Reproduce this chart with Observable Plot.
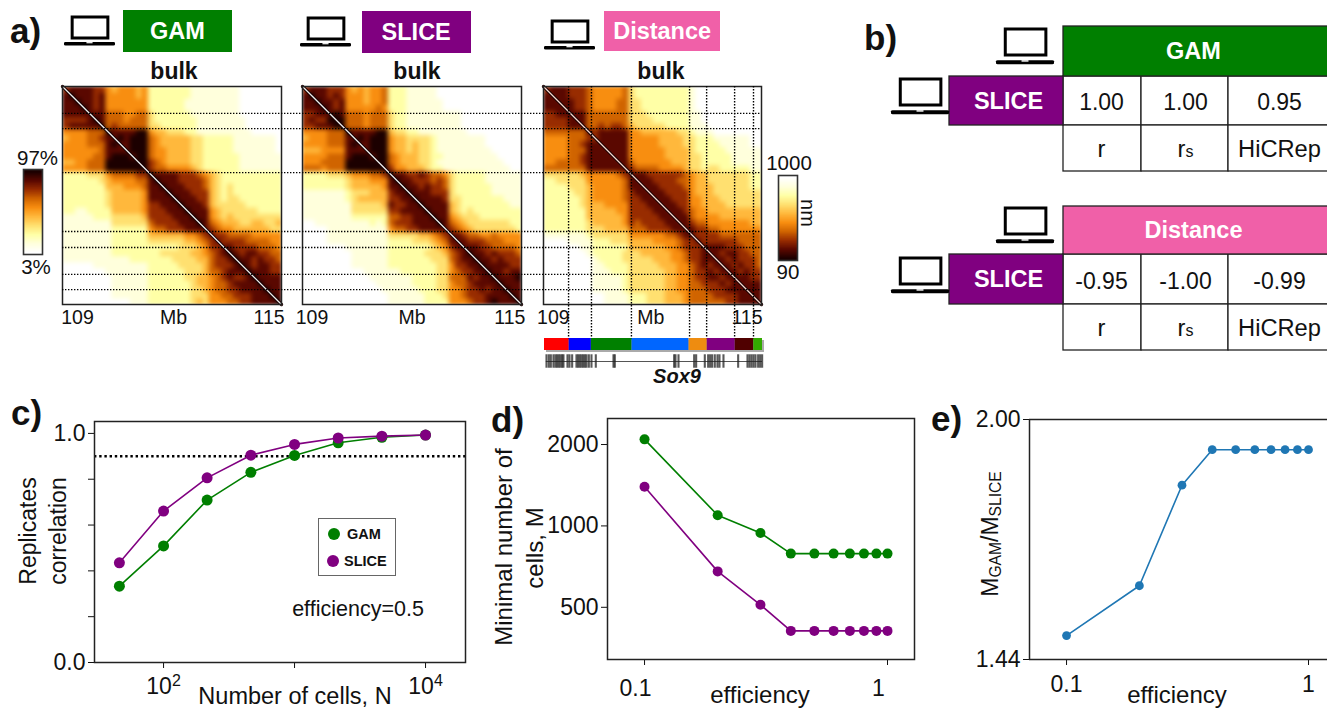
<!DOCTYPE html>
<html><head><meta charset="utf-8">
<script src="https://cdn.jsdelivr.net/npm/d3@7"></script>
<script src="https://cdn.jsdelivr.net/npm/@observablehq/plot@0.6"></script>
<style>
html,body{margin:0;background:#fff}
#root{position:relative;width:1327px;height:710px;overflow:hidden;font-family:"Liberation Sans",Arial,sans-serif;color:#111}
#root svg{position:absolute;overflow:visible}
.lab{position:absolute;line-height:1;white-space:nowrap}
sub{font-size:68%;vertical-align:baseline;position:relative;top:.22em}
</style></head><body><div id="root"></div>
<script>
// ---------- data ----------
// Upper triangle of each contact map, read by eye: row i lists columns i..35, level 0 (white) to 9 (black).
const gamRows=[
"78888775 455545 2222222111 111 110000000","9888785 555545 2222222111 111 110000000","988785 555555 2222221111 111 110000000","98785 555555 2222221111 111 110000000",
"8886 665566 3222222111 111 110000000","986 665666 3222222211 111 111000000","96 766666 3322222211 111 111000000","9 888899 5443332211 111 111100000",
"898999 6544444332 222 211111110","88999 6544444332 222 211111110","8999 6554444332 222 211111110","899 6554444332 222 221111111","99 7654444332 222 221111111","9 7665555432 222 221111111",
"9888877765 432 222222222","988877776 432 222222222","98887776 432 322222222","9888777 432 322222222","988877 432 332222222","98887 433 333222222","9888 543 333332222","988 543 433333333","98 654 443344334","8 765 544444433",
"877 666655555","87 777666655","8 877776665",
"987887766","98878776","9878877","988877","98888","9888","988","98","9"];
const sliceRows=[
"78887775 454556 2221111100 000 000000000","9887875 554556 2221111100 000 000000000","988785 554556 2221111110 000 000000000","98785 555565 2221111110 000 000000000",
"8986 665666 3221111111 110 000000000","996 665666 3221111111 110 000000000","96 665666 3221111111 110 000000000","9 888899 4332211111 111 000000000",
"898999 5443333211 111 111000000","88999 5443433211 111 111000000","8999 5443433211 111 111100000","899 6544433221 111 111110000","99 6544433211 111 111111000","9 7554443221 111 111111100",
"9887787665 322 222111111","988777676 322 222111111","98878776 322 222211111","9888777 322 222211111","988887 332 222222111","98888 432 222222211","9888 432 322222222","988 543 332222222","98 654 333333322","8 765 433333332",
"887 665565555","88 777666555","8 887766665",
"988787776","98878777","9888877","988788","98889","9888","988","98","9"];
const distRows=[
"78887776 555556 3222222222 100 000000000","8887776 555556 3222222222 100 000000000","888776 555566 3322222222 100 000000000","88776 555566 3322222222 100 000000000",
"8886 666666 3332222222 110 000000000","886 666666 3333222222 110 000000000","86 676776 4333332222 111 000000000","8 788888 5544444433 211 100000000",
"788888 5555544443 322 211111100","88888 5555544443 322 221111100","8888 5555554444 322 222111111","888 5555554444 332 222211111","88 6555555444 332 222211111","8 7666655554 332 332222211",
"8887777776 544 333333322","888777766 544 333333322","88877776 544 433333322","8887777 544 433333333","888777 554 443333333","88877 554 444333333","8887 655 444444444","888 655 554444444","88 766 555555544","8 877 665555555",
"877 776666666","87 777776666","8 888777666",
"887887766","88787776","8878776","887877","88877","8888","888","88","8"];
const heatRamp=["#ffffff","#ffffdc","#ffffa6","#ffe070","#ffb83c","#f88e10","#d06400","#982c00","#5a0800","#1c0000"];
const barLevels=[9,8.5,8,7.5,7,6.5,6,5.5,5,4.5,4,3.5,3,2.5,2,1.5,1,.5,0];
const domainLinesY=[109.74,110.16,111.37,112.99,113.43,114.17,114.59];
const domainLinesX=[109.69,110.32,111.42,113.02,113.49,114.26,114.78];
const tadStarts=[109,109.68,110.29,111.41,112.98,113.48,114.25,114.76];
const tadEnds=[109.68,110.29,111.41,112.98,113.48,114.25,114.76,115];
const tadColors=["#ff0000","#0000ff","#008000","#0066ff","#ee8c10","#800080","#500000","#33aa00"];
const genePositions=[109.055,109.119,109.174,109.247,109.302,109.348,109.394,109.440,109.486,109.522,109.633,109.688,109.761,109.880,109.926,109.972,110.018,110.064,110.110,110.156,110.220,110.293,110.412,110.899,110.935,112.568,112.605,112.688,113.119,113.174,113.412,113.504,113.559,113.614,113.687,113.761,113.816,113.926,114.330,114.587,114.642,114.697,114.752,114.807,114.880,114.935,114.990];
const heatTickText=["109","Mb","115"];
const gamTickAt=[109.41,112.04,114.66], sliceTickAt=[109.26,112.0,114.68], distTickAt=[109.27,111.95,114.6];
const cellsN=[46,100,215,464,1000,2154,4642,10000];
const gamCorr=[.333,.509,.709,.830,.904,.959,.983,.993];
const sliceCorr=[.435,.661,.806,.905,.952,.980,.988,.993];
const efficiency=[.1,.2,.3,.4,.5,.6,.7,.8,.9,1];
const gamMin=[2090,1095,942,790,790,790,790,790,790,790];
const sliceMin=[1395,679,511,409,409,409,409,409,409,409];
const ratio=[1.488,1.593,1.828,1.919,1.919,1.919,1.919,1.919,1.919,1.919];
const tableCols=["r","rs","HiCRep"];
const gamVals=["1.00","1.00","0.95"];
const distVals=["-0.95","-1.00","-0.99"];
const colEdges=[0,114,192,279,400];
const colCenters=[152,236,330];

// ---------- helpers ----------
const root=document.getElementById("root");
const GREEN="#007f00",PURPLE="#800080",PINK="#f060a8",FONT='"Liberation Sans",Arial,sans-serif';
function put(svg,l,t){svg.style.left=l+"px";svg.style.top=t+"px";root.appendChild(svg);return svg}
function lab(html,x,y,size,o={}){const d=document.createElement("div");d.className="lab";d.innerHTML=html;d.style.fontSize=size+"px";
  if(o.bold)d.style.fontWeight="bold";if(o.italic)d.style.fontStyle="italic";if(o.color)d.style.color=o.color;
  d.style.left=x+"px";
  if(o.rot!==undefined){d.style.top=y+"px";d.style.transform=`translate(-50%,-50%) rotate(${o.rot}deg)`}
  else{d.style.top=(y-.8465*size)+"px";if(o.center)d.style.transform="translateX(-50%)"}
  root.appendChild(d);return d}
function box(x,y,w,h,fill,border){const d=document.createElement("div");Object.assign(d.style,{position:"absolute",left:x+"px",top:y+"px",width:w+"px",height:h+"px",background:fill,boxSizing:"border-box"});if(border)d.style.border=border;root.appendChild(d);return d}
function laptop(x,y,w,h){const ns="http://www.w3.org/2000/svg",s=document.createElementNS(ns,"svg");s.setAttribute("width",w);s.setAttribute("height",h);s.setAttribute("viewBox","0 0 100 100");s.setAttribute("preserveAspectRatio","none");
  s.innerHTML=`<rect x="16" y="3" width="70" height="70" fill="#fff" stroke="#000" vector-effect="non-scaling-stroke" style="stroke-width:3px"/><rect x="0" y="87" width="100" height="11" rx="3" fill="#000"/><rect x="44" y="87" width="12" height="4" fill="#fff"/>`;
  put(s,x,y)}
const expand=rows=>{const n=36,m=new Array(n*n).fill(0);rows.forEach((raw,i)=>{const r=raw.replace(/ /g,"");for(let j=i;j<n;j++){const c=r[j-i]??r[r.length-1];m[i*n+j]=m[j*n+i]=+c}});return m};
const colorScale={type:"linear",domain:d3.range(10),range:heatRamp};
const baseStyle={fontFamily:FONT,background:"transparent",overflow:"visible",color:"#111"};

// ---------- panel a ----------
function heat(rows,left,w,tickAt,diag){
  const ticks=heatTickText.map((t,i)=>({t,x:tickAt[i]}));
  const p=Plot.plot({width:w,height:218,margin:0,style:baseStyle,
    x:{domain:[109,115],axis:null},y:{domain:[115,109],axis:null},color:colorScale,
    marks:[
      Plot.raster(expand(rows),{width:36,height:36,x1:109,y1:109,x2:115,y2:115,fill:d=>d,clip:"frame"}),
      Plot.line([[109,109],[115,115]],{stroke:"#1a0000",strokeWidth:3.2}),
      Plot.line([[109,109],[115,115]],{stroke:diag,strokeWidth:1.3}),
      Plot.text(ticks,{x:"x",y:()=>115,text:"t",dy:13,fontSize:19.5,fill:"#111"}),
      Plot.frame({stroke:"#222",strokeWidth:1.5})
    ]});
  p.querySelectorAll("image").forEach(e=>{e.style.filter="blur(1.8px)"});
  put(p,left,86);
}
heat(gamRows,62,219,gamTickAt,"#eee");
heat(sliceRows,302,219,sliceTickAt,"#eee");
heat(distRows,543,218,distTickAt,"#f6d9d0");
// domain guides over all three maps
put(Plot.plot({width:699,height:218,margin:0,style:baseStyle,y:{domain:[115,109],axis:null},x:{axis:null},
  marks:[Plot.ruleY(domainLinesY,{stroke:"#000",strokeWidth:1.4,strokeDasharray:"1.4 1.6"})]}),62,86);
put(Plot.plot({width:218,height:266,margin:0,style:baseStyle,x:{domain:[109,115],axis:null},y:{axis:null},
  marks:[Plot.ruleX(domainLinesX,{stroke:"#000",strokeWidth:1.4,strokeDasharray:"1.4 1.6"})]}),543,86);
// TAD strip and gene track
const tads=tadStarts.map((s,i)=>({s,e:tadEnds[i],c:tadColors[i]}));
put(Plot.plot({width:218,height:12,margin:0,style:baseStyle,x:{domain:[109,115],axis:null},y:{domain:[0,1],axis:null},
  marks:[Plot.rect([0],{x1:()=>109,x2:()=>115,y1:()=>0,y2:()=>1,fill:"#aaa",dx:2,dy:2}),
         Plot.rect(tads,{x1:"s",x2:"e",y1:()=>0,y2:()=>1,fill:d=>d.c})]}),543.5,337.5);
put(Plot.plot({width:218,height:16,margin:0,style:baseStyle,x:{domain:[109,115],axis:null},y:{domain:[0,1],axis:null},
  marks:[Plot.ruleY([.5],{x1:()=>109.05,x2:()=>115,stroke:"#555",strokeWidth:1}),
         Plot.ruleX(genePositions,{y1:()=>0.08,y2:()=>.92,stroke:"#222",strokeWidth:2.1,strokeOpacity:.75})]}),543.5,353);
// colour bars
function bar(levels,l,t,w,h){put(Plot.plot({width:w,height:h,margin:0,style:baseStyle,x:{domain:[0,1],axis:null},y:{domain:[0,1],axis:null},color:colorScale,
  marks:[Plot.raster(levels,{width:1,height:levels.length,x1:0,x2:1,y1:1,y2:0,fill:d=>d}),Plot.frame({stroke:"#333",strokeWidth:1.6})]}),l,t)}
bar(barLevels,23,169,19,85);
bar([...barLevels].reverse(),778,175,19,85);
lab("97%",37.5,165,20.5,{center:1});lab("3%",36,274,20.5,{center:1});
lab("1000",789,170,20.5,{center:1});lab("90",788,279,20.5,{center:1});lab("nm",808,213,20,{rot:90});
// headers
[["GAM",122.7,10,109.6,41.7,GREEN],["SLICE",361.7,11,109,41.7,PURPLE],["Distance",604.3,11,115.7,40,PINK]].forEach(([t,x,y,w,h,c])=>{
  box(x,y,w,h,c);lab(t,x+w/2,y+h/2+9,23.5,{bold:1,center:1,color:"#fff"});});
[[64,16],[300,17],[544,20]].forEach(([x,y])=>laptop(x,y,51,30));
[174,417,661].forEach(x=>lab("bulk",x,79,23,{bold:1,center:1}));
lab("Sox9",677,383,20,{bold:1,italic:1,center:1});

// ---------- panel b ----------
function table(top,rowEdges,title,color,vals){
  const cols=tableCols.map((t,i)=>({t,x:colCenters[i],v:vals[i]}));
  const rowMid=i=>(rowEdges[i]+rowEdges[i+1])/2;
  const cells=[];for(let c=1;c<4;c++)for(let r=1;r<3;r++)cells.push({x1:colEdges[c],x2:colEdges[c+1],y1:rowEdges[r],y2:rowEdges[r+1]});
  const p=Plot.plot({width:378,height:rowEdges[3],margin:0,style:baseStyle,
    x:{domain:[0,378],axis:null},y:{domain:[rowEdges[3],0],axis:null},
    marks:[
      Plot.rect(cells,{x1:"x1",x2:"x2",y1:"y1",y2:"y2",fill:"#fff",stroke:"#222",strokeWidth:1.3}),
      Plot.rect([0],{x1:()=>114,x2:()=>400,y1:()=>0,y2:()=>rowEdges[1],fill:color,stroke:"#222",strokeWidth:1.3}),
      Plot.rect([0],{x1:()=>0,x2:()=>114,y1:()=>rowEdges[1],y2:()=>rowEdges[2],fill:PURPLE,stroke:"#222",strokeWidth:1.3}),
      Plot.text([title],{x:()=>244,y:()=>rowMid(0),text:d=>d,fill:"#fff",fontWeight:"bold",fontSize:23.5}),
      Plot.text(["SLICE"],{x:()=>59,y:()=>rowMid(1),text:d=>d,fill:"#fff",fontWeight:"bold",fontSize:23.5}),
      Plot.text(cols,{x:"x",y:()=>rowMid(1),text:"v",dy:2,fontSize:23,fill:"#111"}),
      Plot.text(cols,{x:"x",y:()=>rowMid(2),text:"t",dy:1,fontSize:23.7,fill:"#111"})
    ]});
  p.querySelectorAll("text").forEach(e=>{if(e.textContent==="rs")e.innerHTML='r<tspan font-size="16">s</tspan>'});
  put(p,949,top);
}
table(26,[0,50,99,145],"GAM",GREEN,gamVals);
table(206,[0,48,98,144],"Distance",PINK,distVals);
[[996,28],[891,78],[996,207],[891,257]].forEach(([x,y])=>laptop(x,y,58,37));

// ---------- panel c ----------
const cData=s=>cellsN.map((n,i)=>({n,v:s[i]}));
const pc=Plot.plot({width:480,height:310,marginLeft:94,marginTop:21,marginRight:15,marginBottom:48,style:{...baseStyle,fontSize:"23px"},
  x:{type:"log",domain:[29.7,20190]},y:{domain:[0,1.052]},
  marks:[
    Plot.axisX({ticks:[100,1000,10000],tickFormat:d=>d===100?"102":d===10000?"104":"",tickSize:6,tickPadding:9,label:null}),
    Plot.axisY({ticks:[0,.2,.4,.6,.8,1],tickFormat:d=>d===0?"0.0":d===1?"1.0":"",tickSize:6,tickPadding:3,label:null}),
    Plot.ruleY([.9],{stroke:"#000",strokeWidth:2.4,strokeDasharray:"2.4 2.8"}),
    Plot.line(cData(gamCorr),{x:"n",y:"v",stroke:GREEN,strokeWidth:1.6}),
    Plot.dot(cData(gamCorr),{x:"n",y:"v",r:5.5,fill:GREEN}),
    Plot.line(cData(sliceCorr),{x:"n",y:"v",stroke:PURPLE,strokeWidth:1.6}),
    Plot.dot(cData(sliceCorr),{x:"n",y:"v",r:5.5,fill:PURPLE}),
    Plot.frame({stroke:"#222",strokeWidth:1.5})
  ]});
pc.querySelectorAll("text").forEach(e=>{const t=e.textContent;if(t==="102"||t==="104")e.innerHTML=`10<tspan dy="-8" font-size="16">${t[2]}</tspan>`});
put(pc,0,400);
lab("Replicates",28,531,23,{rot:-90});lab("correlation",58,531,23,{rot:-90});
lab("Number of cells, N",295,705,23.5,{center:1});
lab("efficiency=0.5",358,617,21.5,{center:1});
box(318,518,78,58,"#fff","1px solid #666");
[[334,534,GREEN],[333,561,PURPLE]].forEach(([x,y,c])=>{const b=box(x-6,y-6,12,12,c);b.style.borderRadius="50%"});
lab("GAM",347,539,14.5,{bold:1});lab("SLICE",344,566,14.5,{bold:1});

// ---------- panel d ----------
const dData=s=>efficiency.map((e,i)=>({e,v:s[i]}));
const effTick=d=>d===1?"1":"0.1";
put(Plot.plot({width:440,height:300,marginLeft:117,marginTop:18,marginRight:16,marginBottom:41,style:{...baseStyle,fontSize:"23px"},
  x:{type:"log",domain:[.0704,1.2915]},y:{type:"log",base:2,domain:[320.6,2496]},
  marks:[
    Plot.axisX({ticks:[.1,1],tickFormat:()=>"",tickSize:6,label:null}),
    Plot.axisX({ticks:[.1,1],tickFormat:effTick,tickSize:0,tickPadding:20,dx:-9,label:null}),
    Plot.axisY({ticks:[500,1000,2000],tickFormat:d=>String(d),tickSize:6,tickPadding:3,label:null}),
    Plot.line(dData(gamMin),{x:"e",y:"v",stroke:GREEN,strokeWidth:1.6}),
    Plot.dot(dData(gamMin),{x:"e",y:"v",r:5,fill:GREEN}),
    Plot.line(dData(sliceMin),{x:"e",y:"v",stroke:PURPLE,strokeWidth:1.6}),
    Plot.dot(dData(sliceMin),{x:"e",y:"v",r:5,fill:PURPLE}),
    Plot.frame({stroke:"#222",strokeWidth:1.5})
  ]}),490,400);
lab("Minimal number of",504,547,24,{rot:-90});lab("cells, M",535,548,24,{rot:-90});
lab("efficiency",760,703,24,{center:1});

// ---------- panel e ----------
const yE=[1.44,2];
put(Plot.plot({width:397,height:300,marginLeft:99,marginTop:19,marginRight:0,marginBottom:41,style:{...baseStyle,fontSize:"23px"},
  x:{type:"log",domain:[.0703,1.198]},y:{type:"log",domain:yE},
  marks:[
    Plot.axisX({ticks:[.1,1],tickFormat:effTick,tickSize:6,tickPadding:10,label:null}),
    Plot.axisY({ticks:yE,tickFormat:d=>d.toFixed(2),tickSize:6,tickPadding:3,label:null}),
    Plot.ruleY(yE,{stroke:"#222",strokeWidth:1.5}),
    Plot.ruleX([.0703],{stroke:"#222",strokeWidth:1.5}),
    Plot.line(efficiency.map((e,i)=>({e,v:ratio[i]})),{x:"e",y:"v",stroke:"#1f77b4",strokeWidth:1.6}),
    Plot.dot(efficiency.map((e,i)=>({e,v:ratio[i]})),{x:"e",y:"v",r:4.4,fill:"#1f77b4"})
  ]}),930,400);
lab("M<sub>GAM</sub>/M<sub>SLICE</sub>",990,534,23,{rot:-90});
lab("efficiency",1177,703,24,{center:1});

// ---------- panel letters ----------
[["a)",10,43],["b)",864,50],["c)",11,425],["d)",491,432],["e)",931,431]].forEach(([t,x,y])=>lab(t,x,y,35,{bold:1}));
</script></body></html>
